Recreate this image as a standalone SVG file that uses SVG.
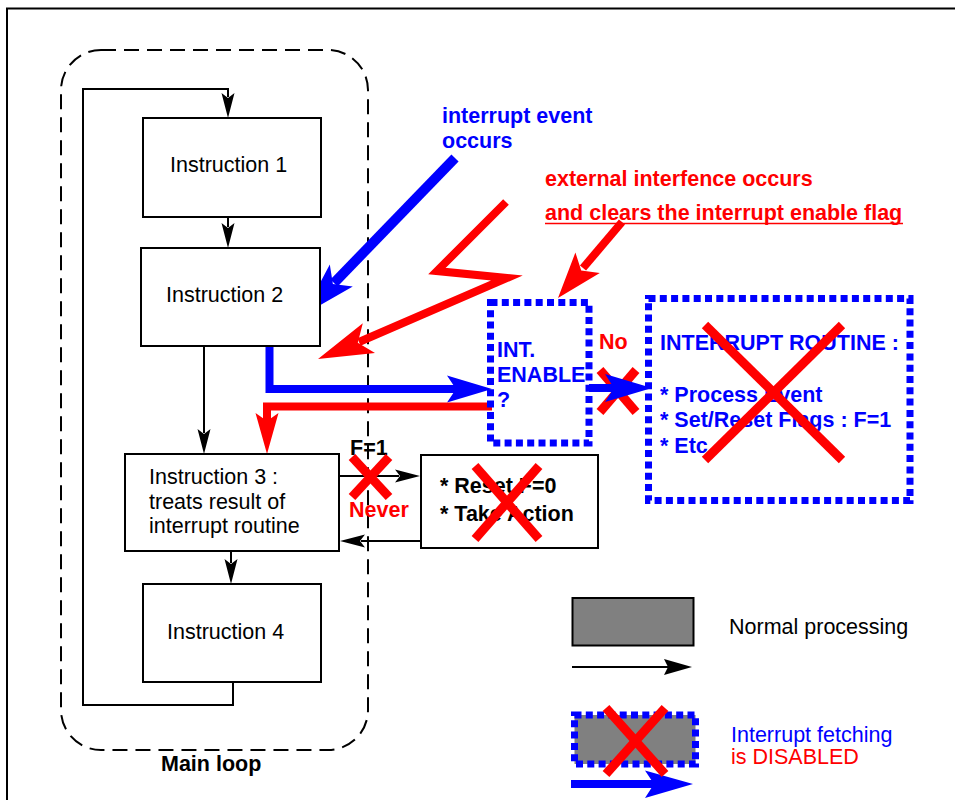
<svg xmlns="http://www.w3.org/2000/svg" width="957" height="800" viewBox="0 0 957 800">
<style>
.t{font-family:"Liberation Sans",Arial,Helvetica,sans-serif;font-size:21.5px;fill:#000}
.b{font-weight:bold}
.blue{fill:#0000ff}
.red{fill:#ff0000}
.box{fill:#fff;stroke:#000;stroke-width:2}
.ln{fill:none;stroke:#000;stroke-width:2}
.ah{fill:#000;stroke:none}
.dot{fill:none;stroke:#0000ff;stroke-width:7;stroke-dasharray:7 4.3}
.bl{fill:none;stroke:#0000ff;stroke-width:8}
.rl{fill:none;stroke:#ff0000;stroke-width:8}
.bh{fill:#0000ff}
.rh{fill:#ff0000}
.x{stroke:#ff0000;stroke-width:9;stroke-linecap:butt}
</style>
<rect width="957" height="800" fill="#fff"/>
<g id="frame">
<path d="M7,800 V8.5 H955" fill="none" stroke="#000" stroke-width="2"/>
</g>
<g id="main-loop">
<rect x="61" y="50" width="307" height="700" rx="40" ry="40" fill="none" stroke="#000" stroke-width="2" stroke-dasharray="15 8"/>
<text class="t b" x="161" y="771">Main loop</text>
</g>
<g id="connectors">
<path class="ln" d="M233,682 V705 H83 V89 H228 V97"/>
<polygon class="ah" points="228,118 221.5,93 228,98 234.5,93"/>
<path class="ln" d="M228,217 V227"/>
<polygon class="ah" points="228,248 221.5,223 228,228 234.5,223"/>
<path class="ln" d="M204,346 V433"/>
<polygon class="ah" points="204,454 197.5,429 204,434 210.5,429"/>
<path class="ln" d="M231,551 V563"/>
<polygon class="ah" points="231,584 224.5,559 231,564 237.5,559"/>
<path class="ln" d="M339,476 H399"/>
<polygon class="ah" points="420,476 395,469.5 400,476 395,482.5"/>
<path class="ln" d="M420,541 H361"/>
<polygon class="ah" points="340,541 365,534.5 360,541 365,547.5"/>
<!-- blue interrupt path from instruction 2 -->
<path class="bl" d="M269.5,346 V389 H458" stroke-linejoin="miter"/>
<polygon class="bh" points="492,389 447,375.5 456,389 447,402.5"/>
<!-- red path back to instruction 3 -->
<path class="rl" d="M492,406.5 H267 V422" stroke-linejoin="miter"/>
<polygon class="rh" points="267,454 255.5,413 267,421 278.5,413"/>
<!-- interrupt event arrow -->
<path fill="none" stroke="#0000ff" stroke-width="10" d="M455,158 L334,283"/>
<polygon class="bh" points="303,315 329.8,264.4 332.9,284.1 352.8,286.6"/>
<!-- lightning -->
<path class="rl" stroke-miterlimit="6" stroke-linejoin="miter" d="M506,202 L437,271 L507,278 L359,342"/>
<polygon class="rh" points="318,359 362.8,323.3 357.8,342.7 375,352.9"/>
<!-- clears arrow -->
<path class="rl" d="M622,222 L583,268"/>
<polygon class="rh" points="558,298 575.4,252.5 581.2,270.5 599.8,273.1"/>
</g>
<g id="instruction1">
<rect class="box" x="143" y="118" width="178" height="99"/>
<text class="t" x="170" y="172">Instruction 1</text>
</g>
<g id="instruction2">
<rect class="box" x="141" y="248" width="179" height="98"/>
<text class="t" x="166" y="302">Instruction 2</text>
</g>
<g id="instruction3">
<rect class="box" x="125" y="454" width="214" height="97"/>
<text class="t" x="149" y="484">Instruction 3 :</text>
<text class="t" x="149" y="509">treats result of</text>
<text class="t" x="149" y="533">interrupt routine</text>
</g>
<g id="instruction4">
<rect class="box" x="143" y="584" width="178" height="98"/>
<text class="t" x="167" y="639">Instruction 4</text>
</g>
<g id="f1-never">
<text class="t b" x="350" y="455">F=1</text>
<line class="x" stroke-width="8" x1="352" y1="457" x2="389" y2="497"/>
<line class="x" stroke-width="8" x1="389" y1="457" x2="352" y2="497"/>
<text class="t b red" x="349" y="517">Never</text>
</g>
<g id="reset-box">
<rect class="box" x="421" y="455" width="177" height="93"/>
<text class="t b" x="440" y="493">* Reset F=0</text>
<text class="t b" x="440" y="521">* Take Action</text>
<line class="x" stroke-width="8" x1="475" y1="466" x2="539" y2="539"/>
<line class="x" stroke-width="8" x1="539" y1="466" x2="475" y2="539"/>
</g>
<g id="labels">
<text class="t b blue" x="442" y="123">interrupt event</text>
<text class="t b blue" x="442" y="148">occurs</text>
<text class="t b red" x="545" y="186">external interfence occurs</text>
<text class="t b red" x="545" y="220">and clears the interrupt enable flag</text>
<line x1="545" y1="223.5" x2="903" y2="223.5" stroke="#ff0000" stroke-width="1.5"/>
</g>
<g id="int-enable">
<rect class="dot" x="490.5" y="302.5" width="98.5" height="140.5"/>
<text class="t b blue" x="497" y="357">INT.</text>
<text class="t b blue" x="497" y="382">ENABLE</text>
<text class="t b blue" x="497" y="407">?</text>
</g>
<g id="no-branch">
<text class="t b red" x="599" y="349">No</text>
<line class="x" stroke-width="8" x1="600" y1="370" x2="636" y2="412"/>
<line class="x" stroke-width="8" x1="636" y1="370" x2="600" y2="412"/>
<path class="bl" d="M589,388 H614"/>
<polygon class="bh" points="652,388 605,374 614,388 605,402"/>
</g>
<g id="interrupt-routine">
<rect class="dot" x="648.5" y="298.5" width="261.5" height="202"/>
<text class="t b blue" x="660" y="350">INTERRUPT ROUTINE :</text>
<text class="t b blue" x="660" y="402">* Process Event</text>
<text class="t b blue" x="660" y="427">* Set/Reset Flags : F=1</text>
<text class="t b blue" x="660" y="453">* Etc</text>
<line class="x" x1="705" y1="325" x2="842" y2="460"/>
<line class="x" x1="842" y1="325" x2="705" y2="460"/>
</g>
<g id="legend-normal">
<rect x="572.5" y="598" width="121" height="47.5" fill="#808080" stroke="#000" stroke-width="2"/>
<path class="ln" d="M572,667 H668"/>
<polygon class="ah" points="692,667 664,659 668,667 664,675"/>
<text class="t" x="729" y="634">Normal processing</text>
</g>
<g id="legend-disabled">
<rect x="574.5" y="715" width="121" height="49" fill="#808080"/>
<rect class="dot" x="574.5" y="715" width="121" height="49"/>
<path class="bl" d="M571,784 H655"/>
<polygon class="bh" points="693,784 645,770.5 654,784 645,798"/>
<line class="x" stroke-width="8" x1="606" y1="708" x2="665" y2="774"/>
<line class="x" stroke-width="8" x1="665" y1="708" x2="606" y2="774"/>
<text class="t blue" x="731" y="742">Interrupt fetching</text>
<text class="t red" x="731" y="764">is DISABLED</text>
</g>
</svg>
